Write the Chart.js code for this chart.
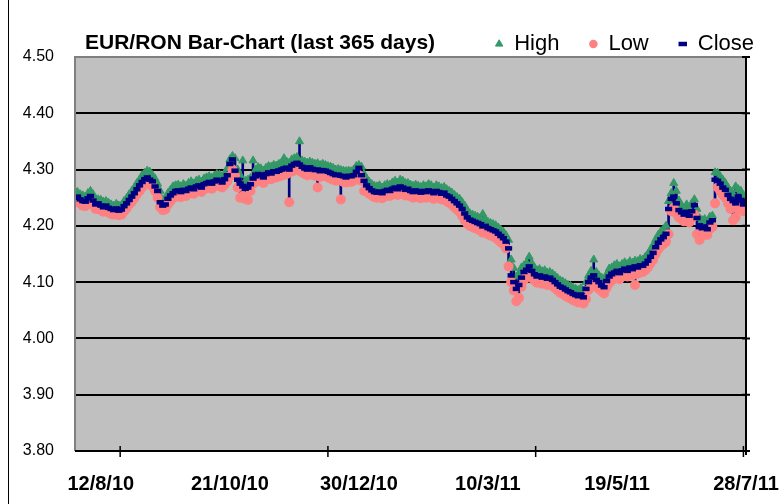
<!DOCTYPE html>
<html><head><meta charset="utf-8">
<script src="https://cdn.jsdelivr.net/npm/chart.js@4.4.1/dist/chart.umd.min.js"></script>
<style>html,body{margin:0;padding:0;background:#fff}#wrap{width:784px;height:504px;position:relative}</style>
</head><body><div id="wrap"><canvas id="c" width="784" height="504"></canvas></div>
<script>
const chartTitle = 'EUR/RON Bar-Chart (last 365 days)';
const startDate = [2010, 6, 29]; // 29 July 2010, first trading day shown
const tradingDays = 261;
const labelText = ['12/8/10','21/10/10','30/12/10','10/3/11','19/5/11','28/7/11'];
const tickMarkIdx = [17.5, 98, 178.5, 259];
const yTicks = [3.8, 3.9, 4.0, 4.1, 4.2, 4.3, 4.4, 4.5];

const closeVals = [
4.250,4.252,4.247,4.244,4.243,4.249,4.253,4.245,4.238,4.240,
4.236,4.233,4.236,4.232,4.230,4.228,4.231,4.227,4.229,4.235,
4.240,4.246,4.252,4.258,4.265,4.272,4.278,4.283,4.286,4.282,
4.279,4.270,4.262,4.242,4.236,4.238,4.248,4.254,4.258,4.262,
4.263,4.260,4.264,4.262,4.266,4.268,4.265,4.270,4.272,4.268,
4.274,4.276,4.278,4.275,4.279,4.282,4.280,4.277,4.283,4.290,
4.310,4.318,4.298,4.282,4.275,4.270,4.266,4.268,4.274,4.284,
4.288,4.292,4.290,4.286,4.292,4.295,4.293,4.297,4.296,4.298,
4.300,4.302,4.303,4.300,4.307,4.310,4.312,4.309,4.305,4.302,
4.300,4.304,4.301,4.299,4.300,4.297,4.299,4.298,4.296,4.294,
4.292,4.290,4.291,4.289,4.288,4.286,4.289,4.288,4.290,4.296,
4.303,4.290,4.280,4.272,4.267,4.263,4.260,4.259,4.261,4.258,
4.262,4.264,4.262,4.266,4.268,4.265,4.270,4.268,4.264,4.266,
4.262,4.260,4.263,4.261,4.259,4.262,4.260,4.263,4.261,4.258,
4.262,4.260,4.257,4.259,4.254,4.252,4.248,4.244,4.240,4.236,
4.230,4.222,4.215,4.211,4.209,4.207,4.205,4.203,4.199,4.200,
4.196,4.194,4.192,4.190,4.186,4.182,4.178,4.172,4.160,4.112,
4.100,4.088,4.095,4.108,4.118,4.122,4.128,4.120,4.114,4.110,
4.112,4.108,4.110,4.106,4.108,4.104,4.100,4.096,4.092,4.090,
4.087,4.084,4.082,4.079,4.077,4.075,4.078,4.073,4.088,4.100,
4.108,4.112,4.104,4.100,4.094,4.091,4.102,4.110,4.114,4.117,
4.120,4.116,4.121,4.124,4.120,4.126,4.123,4.128,4.126,4.130,
4.129,4.133,4.138,4.145,4.152,4.162,4.170,4.176,4.180,4.186,
4.230,4.248,4.252,4.240,4.228,4.224,4.220,4.225,4.218,4.226,
4.237,4.214,4.200,4.196,4.198,4.194,4.206,4.210,4.282,4.280,
4.275,4.268,4.264,4.255,4.248,4.244,4.240,4.252,4.246,4.238,
4.243];

const highVals = [
4.262,4.260,4.256,4.254,4.252,4.258,4.262,4.256,4.248,4.247,
4.246,4.243,4.244,4.241,4.238,4.236,4.239,4.236,4.237,4.244,
4.249,4.256,4.262,4.268,4.276,4.282,4.290,4.294,4.298,4.296,
4.290,4.284,4.275,4.262,4.247,4.248,4.258,4.264,4.270,4.272,
4.273,4.270,4.274,4.271,4.276,4.279,4.275,4.280,4.282,4.278,
4.284,4.286,4.288,4.285,4.289,4.292,4.291,4.288,4.293,4.302,
4.318,4.324,4.320,4.300,4.290,4.316,4.280,4.282,4.285,4.316,
4.300,4.304,4.302,4.298,4.303,4.306,4.305,4.308,4.307,4.310,
4.312,4.320,4.314,4.312,4.318,4.320,4.322,4.350,4.316,4.314,
4.312,4.314,4.312,4.310,4.311,4.308,4.310,4.308,4.306,4.305,
4.303,4.300,4.301,4.299,4.298,4.297,4.298,4.297,4.300,4.306,
4.308,4.305,4.292,4.284,4.278,4.274,4.271,4.270,4.272,4.268,
4.272,4.274,4.273,4.277,4.280,4.276,4.282,4.280,4.276,4.276,
4.273,4.271,4.273,4.271,4.269,4.272,4.270,4.274,4.272,4.268,
4.272,4.270,4.267,4.269,4.265,4.262,4.259,4.255,4.251,4.248,
4.242,4.236,4.228,4.222,4.220,4.218,4.216,4.214,4.221,4.212,
4.207,4.205,4.203,4.201,4.197,4.193,4.189,4.183,4.175,4.140,
4.125,4.110,4.115,4.126,4.130,4.134,4.145,4.134,4.126,4.121,
4.123,4.119,4.121,4.117,4.118,4.115,4.111,4.107,4.103,4.101,
4.098,4.095,4.093,4.090,4.088,4.086,4.089,4.085,4.100,4.112,
4.120,4.140,4.118,4.112,4.108,4.104,4.114,4.124,4.126,4.130,
4.132,4.128,4.132,4.135,4.132,4.137,4.134,4.138,4.137,4.141,
4.140,4.145,4.150,4.158,4.166,4.176,4.184,4.190,4.194,4.200,
4.244,4.258,4.276,4.262,4.245,4.236,4.232,4.238,4.230,4.240,
4.247,4.230,4.214,4.210,4.212,4.208,4.216,4.218,4.295,4.294,
4.288,4.282,4.276,4.268,4.262,4.256,4.270,4.265,4.262,4.254,
4.255];

const lowVals = [
4.244,4.243,4.240,4.236,4.235,4.240,4.244,4.238,4.230,4.231,
4.228,4.225,4.226,4.224,4.221,4.220,4.222,4.219,4.220,4.226,
4.231,4.238,4.243,4.249,4.256,4.262,4.268,4.274,4.277,4.273,
4.270,4.262,4.250,4.233,4.228,4.229,4.238,4.244,4.249,4.252,
4.254,4.251,4.255,4.253,4.257,4.259,4.257,4.261,4.263,4.260,
4.265,4.267,4.269,4.266,4.270,4.272,4.271,4.268,4.273,4.279,
4.288,4.300,4.290,4.268,4.250,4.253,4.248,4.246,4.262,4.275,
4.278,4.282,4.280,4.276,4.282,4.285,4.283,4.287,4.286,4.288,
4.289,4.291,4.292,4.242,4.296,4.299,4.301,4.298,4.295,4.292,
4.290,4.293,4.291,4.289,4.268,4.287,4.289,4.288,4.286,4.284,
4.282,4.280,4.281,4.247,4.278,4.277,4.279,4.278,4.280,4.285,
4.290,4.280,4.262,4.262,4.257,4.254,4.251,4.250,4.252,4.249,
4.252,4.254,4.253,4.256,4.258,4.255,4.260,4.258,4.254,4.256,
4.252,4.250,4.253,4.251,4.249,4.252,4.250,4.253,4.251,4.248,
4.252,4.250,4.247,4.249,4.244,4.241,4.238,4.233,4.229,4.225,
4.218,4.210,4.204,4.200,4.198,4.196,4.194,4.192,4.188,4.189,
4.185,4.183,4.181,4.179,4.175,4.171,4.167,4.160,4.128,4.100,
4.085,4.066,4.072,4.092,4.104,4.110,4.114,4.108,4.103,4.099,
4.101,4.097,4.099,4.095,4.097,4.093,4.089,4.085,4.081,4.079,
4.076,4.073,4.071,4.068,4.066,4.064,4.067,4.062,4.070,4.086,
4.096,4.100,4.092,4.088,4.084,4.080,4.090,4.098,4.103,4.106,
4.108,4.105,4.110,4.112,4.110,4.114,4.112,4.095,4.115,4.118,
4.118,4.121,4.126,4.133,4.140,4.150,4.158,4.164,4.168,4.172,
4.185,4.226,4.232,4.222,4.215,4.212,4.208,4.212,4.206,4.214,
4.220,4.185,4.175,4.182,4.186,4.184,4.195,4.198,4.240,4.268,
4.262,4.255,4.250,4.240,4.230,4.210,4.215,4.230,4.232,4.226,
4.232];

// trading-day categories (weekdays)
const dates = [];
(function(){
  const d = new Date(startDate[0], startDate[1], startDate[2]);
  while (dates.length < tradingDays) {
    const wd = d.getDay();
    if (wd !== 0 && wd !== 6) dates.push(d.getDate() + '/' + (d.getMonth()+1) + '/' + String(d.getFullYear()).slice(2));
    d.setDate(d.getDate()+1);
  }
})();
const labelIdx = labelText.map(t => dates.indexOf(t));

const NARROW = "'Liberation Sans Narrow', 'Arial Narrow', 'Liberation Sans', Arial, sans-serif";
const SANS = "'Liberation Sans', Arial, sans-serif";

const deco = {
  id: 'deco',
  beforeDraw(chart) {
    const {ctx, chartArea: a} = chart;
    ctx.save();
    ctx.fillStyle = '#C0C0C0';
    ctx.fillRect(a.left, a.top, a.right - a.left, a.bottom - a.top);
    ctx.restore();
  },
  afterDraw(chart) {
    const {ctx, chartArea: a} = chart;
    const xs = chart.scales.x, ys = chart.scales.y;
    ctx.save();
    ctx.lineWidth = 2;
    ctx.strokeStyle = '#808080';
    ctx.beginPath();
    ctx.moveTo(a.left, a.bottom); ctx.lineTo(a.left, a.top); ctx.lineTo(a.right, a.top);
    ctx.stroke();
    ctx.strokeStyle = '#000';
    ctx.beginPath();
    ctx.moveTo(a.right, a.top - 1); ctx.lineTo(a.right, a.bottom + 4);
    ctx.moveTo(a.left, a.bottom); ctx.lineTo(a.right + 4, a.bottom);
    ctx.stroke();
    ctx.beginPath();
    yTicks.forEach(v => { const y = ys.getPixelForValue(v); ctx.moveTo(a.right - 4, y); ctx.lineTo(a.right + 4, y); });
    ctx.stroke();
    ctx.lineWidth = 1.5;
    ctx.beginPath();
    tickMarkIdx.forEach(v => { const x = xs.getPixelForValue(v); ctx.moveTo(x, a.bottom - 5); ctx.lineTo(x, a.bottom + 6); });
    ctx.stroke();
    ctx.lineWidth = 1;
    ctx.beginPath(); ctx.moveTo(8.5, 0); ctx.lineTo(8.5, 504); ctx.stroke();
    ctx.fillStyle = '#000';
    ctx.font = 'bold 21px ' + SANS;
    ctx.textBaseline = 'alphabetic';
    ctx.textAlign = 'left';
    ctx.fillText(chartTitle, 85, 49);
    ctx.restore();
  }
};

const pts = arr => arr.map((v, i) => ({x: i, y: v}));

new Chart(document.getElementById('c'), {
  type: 'scatter',
  data: {
    datasets: [
      {label: 'High', data: pts(highVals), pointStyle: 'triangle', pointRadius: 4.6,
       backgroundColor: '#339966', borderColor: '#339966', pointBorderWidth: 1, order: 2},
      {label: 'Low', data: pts(lowVals), pointStyle: 'circle', pointRadius: 5,
       backgroundColor: '#FF8080', borderColor: '#FF8080', pointBorderWidth: 0, order: 1},
      {label: 'Close', data: pts(closeVals), pointStyle: 'line', pointRadius: 3.6,
       backgroundColor: '#000080', borderColor: '#000080', pointBorderWidth: 4.5, borderWidth: 4, order: 0},
      {type: 'bar', label: 'HL', data: lowVals.map((v, i) => ({x: i, y: [v, highVals[i]]})),
       backgroundColor: '#000080', borderWidth: 0, barThickness: 2, order: 3}
    ]
  },
  options: {
    responsive: false, animation: false, devicePixelRatio: 1, events: [],
    layout: {padding: {top: 3, left: 0, right: 0, bottom: 0}},
    plugins: {
      tooltip: {enabled: false},
      title: {display: false},
      legend: {
        display: true, position: 'top', align: 'end', maxHeight: 54,
        labels: {
          usePointStyle: true, boxWidth: 8, boxHeight: 6, padding: 30, color: '#000',
          font: {family: SANS, size: 22},
          filter: item => item.datasetIndex !== 3,
          sort: (a, b) => a.datasetIndex - b.datasetIndex
        }
      }
    },
    scales: {
      x: {
        type: 'linear', min: 0, max: tradingDays - 1, offset: false,
        grid: {display: false, offset: false, drawTicks: false}, border: {display: false},
        afterBuildTicks: s => { s.ticks = labelIdx.map(v => ({value: v})); },
        afterFit: s => { s.height = 53; s.paddingLeft = 0; s.paddingRight = 0; },
        ticks: {autoSkip: false, maxRotation: 0, minRotation: 0, padding: 21, color: '#000',
          font: {family: NARROW, size: 20, weight: 'bold'},
          callback: (v, i) => labelText[i]}
      },
      y: {
        type: 'linear', position: 'left', min: 3.8, max: 4.5,
        afterBuildTicks: s => { s.ticks = yTicks.map(v => ({value: v})); },
        afterFit: s => { s.width = 75; s.paddingTop = 0; s.paddingBottom = 0; },
        grid: {drawTicks: false, lineWidth: 2,
          color: c => (c.tick && (c.tick.value === 4.5 || c.tick.value === 3.8)) ? 'rgba(0,0,0,0)' : '#000'},
        border: {display: false},
        ticks: {padding: 21, color: '#000', font: {family: NARROW, size: 16},
          callback: v => Number(v).toFixed(2)}
      },
      y2: {
        type: 'linear', position: 'right', display: true, min: 3.8, max: 4.5,
        grid: {display: false, drawTicks: false}, border: {display: false}, ticks: {display: false},
        afterFit: s => { s.width = 38; }
      }
    }
  },
  plugins: [deco]
});
</script></body></html>
